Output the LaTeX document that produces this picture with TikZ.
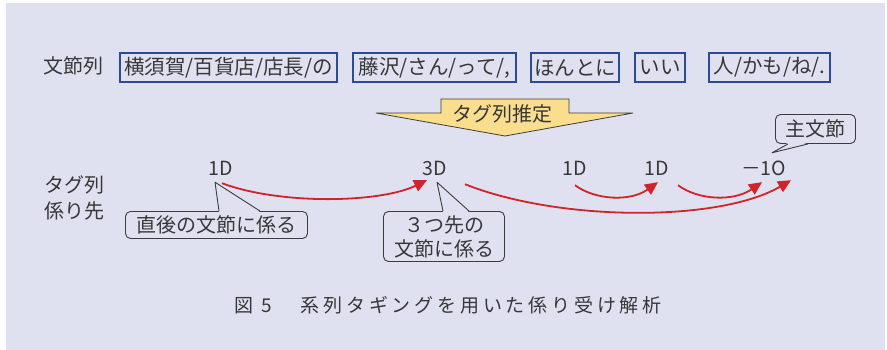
\documentclass[tikz,border=0pt]{standalone}
\usepackage{fontspec}
\setmainfont{Noto Sans CJK JP}
\newfontfamily\capfont[LetterSpace=20]{Noto Sans CJK JP}
\usetikzlibrary{arrows.meta,calc}
\definecolor{bg}{RGB}{223,225,240}
\definecolor{boxblue}{RGB}{43,74,152}
\definecolor{ink}{RGB}{55,55,55}
\definecolor{arrred}{RGB}{210,35,42}
\definecolor{tagyellow}{RGB}{250,222,142}
\definecolor{callline}{RGB}{60,60,60}
\newcommand\callptr[3]{%
  \fill[bg] #1 -- #2 -- #3 -- cycle;}
\begin{document}
\begin{tikzpicture}[x=1pt,y=-1pt,
  every node/.style={text=ink, inner sep=0pt},
  seg/.style={draw=boxblue, line width=1.8pt, minimum height=29pt, font=\fontsize{20.5}{24}\selectfont},
  lbl/.style={font=\fontsize{20}{26}\selectfont, align=center},
  tag/.style={font=\fontsize{19.5}{22}\selectfont, text height=14pt, text depth=0pt},
  call/.style={draw=callline, line width=0.9pt, fill=bg, rounded corners=5pt, font=\fontsize{20}{24}\selectfont, align=center},
  dep/.style={draw=arrred, line width=1.8pt, -{Triangle[length=13pt,width=12pt]}},
  ptrline/.style={draw=callline, line width=0.9pt, line join=round},
]
\useasboundingbox (0,0) rectangle (887,350);
\fill[bg] (6,3) rectangle (885,350);

% top row
\node[lbl] (hdr) at (73,66) {文節列};
\node[seg, minimum width=217pt] (b1) at (228.5,67.5) {横須賀/百貨店/店長/の};
\node[seg, minimum width=163pt] (b2) at (434.5,67.5) {藤沢/さん/って/,};
\node[seg, minimum width=88pt] (b3) at (575,67.5) {ほんとに};
\node[seg, minimum width=50pt] (b4) at (660,67.5) {いい};
\node[seg, minimum width=121pt] (b5) at (769.5,67.5) {人/かも/ね/.};

% estimation arrow
\draw[draw=callline, line width=0.8pt, fill=tagyellow, line join=miter]
  (376,113) -- (441,113) -- (441,99) -- (569,99) -- (569,113) -- (633,113) -- (505,136) -- cycle;
\node[lbl] (est) at (502,113.5) {タグ列推定};

% tag row
\node[lbl] (side) at (75,198) {タグ列\\係り先};
\node[tag] (d1) at (221,168.5) {1D};
\node[tag] (d3) at (434.5,168.5) {3D};
\node[tag] (d4) at (575,168.5) {1D};
\node[tag] (d5) at (656.5,168.5) {1D};
\node[tag] (d6) at (763.5,168.5) {－1O};

% dependency arrows
\draw[dep] ([shift={(1,7.5)}]d1.south) .. controls (280,205) and (380,203) .. ([shift={(-7.5,4.5)}]d3.south);
\draw[dep] ([shift={(30.5,8.5)}]d3.south) .. controls (560,222) and (720,222) .. ([shift={(27.5,4.5)}]d6.south);
\draw[dep] ([shift={(0,9.5)}]d4.south) .. controls (595,200) and (630,202) .. ([shift={(1.5,6.5)}]d5.south);
\draw[dep] ([shift={(21.5,9.5)}]d5.south) .. controls (698,200) and (733,202) .. ([shift={(-1.5,6.5)}]d6.south);

% callouts
\node[call, minimum width=182pt, minimum height=27pt] (c1) at (216.5,225) {直後の文節に係る};
\callptr{([shift={(2.5,1.2)}]c1.north)}{([shift={(-6,6.5)}]d1.south)}{([shift={(43.5,1.2)}]c1.north)}
\draw[ptrline] ([shift={(2.5,0)}]c1.north) -- ([shift={(-6,6.5)}]d1.south) -- ([shift={(43.5,0)}]c1.north);

\node[call, minimum width=121pt, minimum height=50pt] (c2) at (444,236.5) {３つ先の\\文節に係る};
\callptr{([shift={(-1,1.2)}]c2.north)}{([shift={(2.5,6.5)}]d3.south)}{([shift={(25,1.2)}]c2.north)}
\draw[ptrline] ([shift={(-1,0)}]c2.north) -- ([shift={(2.5,6.5)}]d3.south) -- ([shift={(25,0)}]c2.north);

\node[call, minimum width=80pt, minimum height=29pt] (c3) at (815.5,129) {主文節};
\callptr{([shift={(-27.5,-1.2)}]c3.south)}{([shift={(8.5,-8.5)}]d6.north)}{([shift={(-7.5,-1.2)}]c3.south)}
\draw[ptrline] ([shift={(-27.5,0)}]c3.south) -- ([shift={(8.5,-8.5)}]d6.north) -- ([shift={(-7.5,0)}]c3.south);

% caption
\node[anchor=west, font=\capfont\fontsize{19}{22}\selectfont] (cap) at (234,305) {図\hspace{8pt}5\hspace{29pt}系列タギングを用いた係り受け解析};
\end{tikzpicture}
\end{document}
